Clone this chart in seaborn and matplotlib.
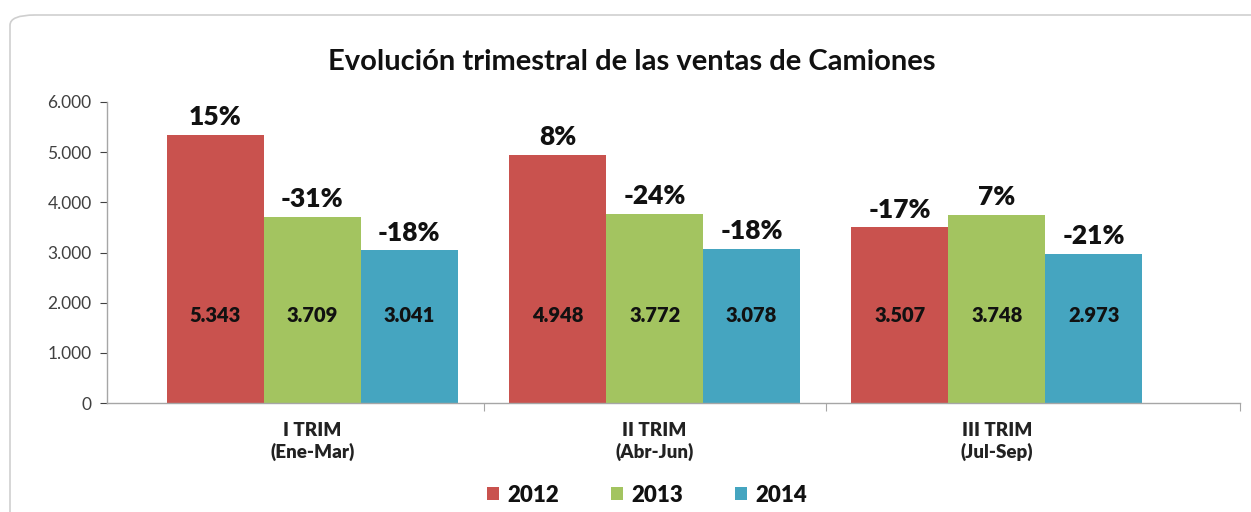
import matplotlib
matplotlib.use("Agg")
import matplotlib.pyplot as plt
from matplotlib.patches import FancyBboxPatch, Patch
from matplotlib.ticker import FuncFormatter, FixedLocator
import seaborn as sns
import pandas as pd

categories = ["I TRIM\n(Ene-Mar)", "II TRIM\n(Abr-Jun)", "III TRIM\n(Jul-Sep)"]
years = ["2012", "2013", "2014"]
ventas_2012 = [5343, 4948, 3507]
ventas_2013 = [3709, 3772, 3748]
ventas_2014 = [3041, 3078, 2973]
var_2012 = ["15%", "8%", "-17%"]
var_2013 = ["-31%", "-24%", "7%"]
var_2014 = ["-18%", "-18%", "-21%"]
colors = ["#C9524E", "#A3C460", "#45A5C0"]

rows = []
for yr, vals in zip(years, [ventas_2012, ventas_2013, ventas_2014]):
    for c, v in zip(categories, vals):
        rows.append({"trim": c, "year": yr, "ventas": v})
df = pd.DataFrame(rows)

sns.set_theme(style="white")
plt.rcParams["font.family"] = ["Lato", "DejaVu Sans"]

fig = plt.figure(figsize=(12.51, 5.12), dpi=100)
fig.patch.set_facecolor("white")
border = FancyBboxPatch((10 / 1251, -0.05), 1.2, 1 - 15 / 512 + 0.05,
                        boxstyle="round,pad=0,rounding_size=0.02",
                        transform=fig.transFigure, facecolor="none",
                        edgecolor="#CFCFCF", linewidth=1.2, zorder=-5)
fig.patches.append(border)

ax = fig.add_axes([107 / 1251, 1 - 403 / 512, (1240 - 107) / 1251, (403 - 102) / 512])
ax.set_facecolor("none")
sns.barplot(data=df, x="trim", y="ventas", hue="year", palette=colors,
            width=0.85, gap=0, edgecolor="none", linewidth=0, ax=ax,
            legend=False, saturation=1)

ax.set_ylim(0, 6000)
ax.set_xlim(-0.6, 2.71)
ax.set_yticks(range(0, 6001, 1000))
ax.yaxis.set_major_formatter(FuncFormatter(lambda v, p: f"{int(v):,}".replace(",", ".")))
ax.tick_params(axis="y", labelsize=12.5, colors="#404040", length=5, width=0.8,
               left=True, pad=6)
ax.set_xticks(range(len(categories)), categories, fontsize=13.5, fontweight="heavy",
              color="#222222")
ax.tick_params(axis="x", which="major", length=0, pad=14)
ax.xaxis.set_minor_locator(FixedLocator([0.5, 1.5, 2.71]))
ax.tick_params(axis="x", which="minor", bottom=True, length=6, width=0.8, color="#A6A6A6")
ax.set_xlabel("")
ax.set_ylabel("")
for s in ["top", "right"]:
    ax.spines[s].set_visible(False)
for s in ["left", "bottom"]:
    ax.spines[s].set_color("#A6A6A6")
    ax.spines[s].set_linewidth(1)

pct = [var_2012, var_2013, var_2014]
vals_all = [ventas_2012, ventas_2013, ventas_2014]
for i, cont in enumerate(ax.containers):
    for j, bar in enumerate(cont):
        x = bar.get_x() + bar.get_width() / 2
        h = bar.get_height()
        ax.text(x, 1750, f"{vals_all[i][j]:,}".replace(",", "."), ha="center",
                va="center", fontsize=14.5, fontweight="heavy", color="#111111")
        ax.annotate(pct[i][j], (x, h), xytext=(0, 4), textcoords="offset points",
                    ha="center", va="bottom", fontsize=19, fontweight="heavy",
                    color="#111111")

fig.text(632 / 1251, 1 - 62 / 512, "Evolución trimestral de las ventas de Camiones",
         ha="center", va="center", fontsize=21, fontweight="bold", color="#111111")

handles = [Patch(facecolor=c, edgecolor="none") for c in colors]
leg = fig.legend(handles, years, loc="center", bbox_to_anchor=(647 / 1251, 1 - 495 / 512),
                 ncol=3, frameon=False, fontsize=16, handlelength=0.55, handleheight=0.55,
                 columnspacing=2.3, handletextpad=0.4)
for t in leg.get_texts():
    t.set_fontweight("heavy")
    t.set_color("#111111")

fig.savefig("out.png", dpi=100, facecolor="white")
